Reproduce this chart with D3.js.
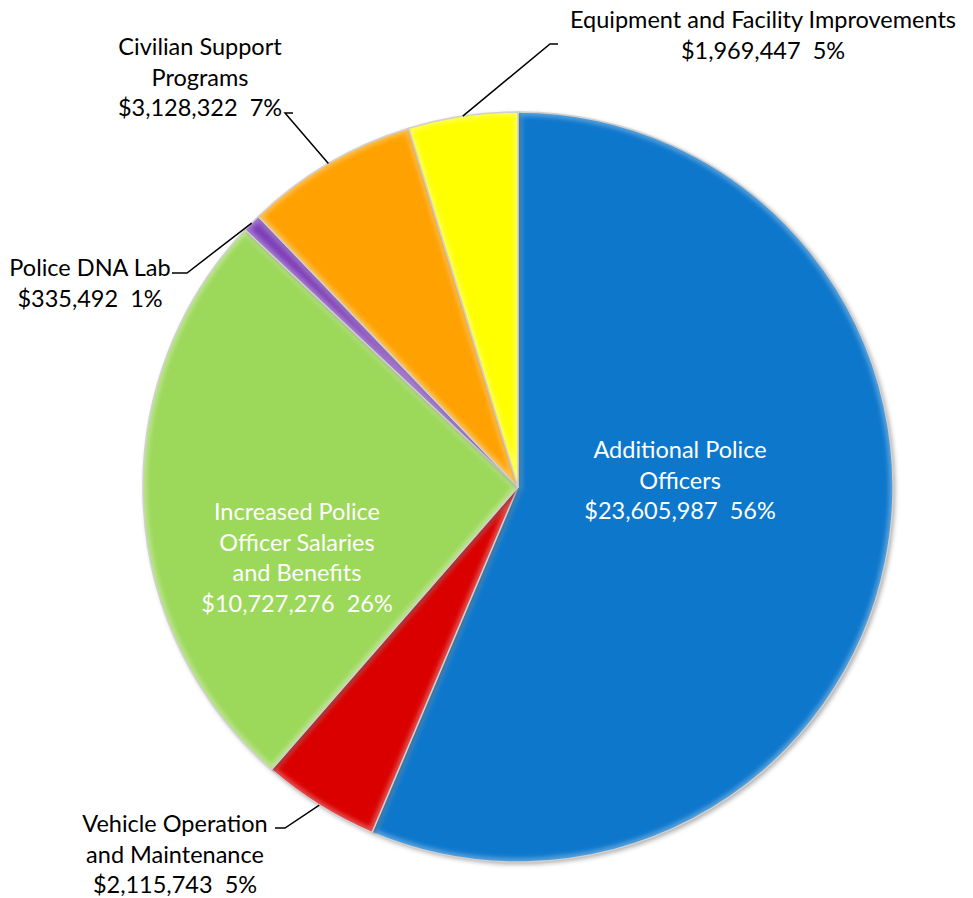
<!DOCTYPE html>
<html>
<head>
<meta charset="utf-8">
<script src="https://cdn.jsdelivr.net/npm/d3@7"></script>
<style>
  body { margin: 0; background: #fff; }
  text { font-family: Lato, "Open Sans", sans-serif; white-space: pre; }
</style>
</head>
<body>
<script>
// data
var categories = ["Additional Police Officers", "Vehicle Operation and Maintenance",
                  "Increased Police Officer Salaries and Benefits", "Police DNA Lab",
                  "Civilian Support Programs", "Equipment and Facility Improvements"];
var amounts = [23605987, 2115743, 10727276, 335492, 3128322, 1969447];
var labelLines = [["Additional Police", "Officers"],
                  ["Vehicle Operation", "and Maintenance"],
                  ["Increased Police", "Officer Salaries", "and Benefits"],
                  ["Police DNA Lab"],
                  ["Civilian Support", "Programs"],
                  ["Equipment and Facility Improvements"]];
var colors = ["#0877CC", "#DA0000", "#9CD85A", "#7E3FB8", "#FFA100", "#FFFF00"];

// label layout (x, first line centre y, leader tick)
var labelLayout = [
  { x: 680, y: 450, inside: true },
  { x: 175, y: 824, tick: [275, 285, 828] },
  { x: 297, y: 512, inside: true },
  { x: 90,  y: 268, tick: [172, 187, 273] },
  { x: 200, y: 47,  tick: [293, 285, 113] },
  { x: 763, y: 20,  tick: [558, 550, 44] }
];

var width = 973, height = 898,
    cx = 518, cy = 487,
    radius = 375,
    lineH = 30.5;

var total = d3.sum(amounts);
var fmtMoney = d3.format("$,"), fmtPct = d3.format(".0%");

var svg = d3.select("body").append("svg")
    .attr("width", width)
    .attr("height", height);

var defs = svg.append("defs");
var shadow = defs.append("filter").attr("id", "shadow")
    .attr("x", "-10%").attr("y", "-10%").attr("width", "120%").attr("height", "120%");
shadow.append("feDropShadow")
    .attr("dx", 2).attr("dy", 2).attr("stdDeviation", 2.5)
    .attr("flood-color", "#000").attr("flood-opacity", 0.35);
var soft = defs.append("filter").attr("id", "soft");
soft.append("feGaussianBlur").attr("stdDeviation", 2);

var pie = d3.pie().sort(null).value(function(d) { return d; });
var arc = d3.arc().innerRadius(0).outerRadius(radius);
var outerArc = d3.arc().innerRadius(radius).outerRadius(radius);

var arcs = pie(amounts);

var g = svg.append("g")
    .attr("transform", "translate(" + cx + "," + cy + ")");

arcs.forEach(function(d, i) {
  defs.append("clipPath").attr("id", "clip" + i)
    .append("path").attr("d", arc(d));
});

var slices = g.selectAll(".slice")
    .data(arcs)
  .enter().append("g")
    .attr("class", "slice");

slices.append("path")
    .attr("d", arc)
    .style("fill", function(d, i) { return colors[i]; })
    .attr("filter", "url(#shadow)");

// bevel-ish inner edge highlight
slices.append("g")
    .attr("clip-path", function(d, i) { return "url(#clip" + i + ")"; })
  .append("path")
    .attr("d", arc)
    .style("fill", "none")
    .style("stroke", "#fff")
    .style("stroke-opacity", 0.3)
    .style("stroke-width", 8)
    .attr("filter", "url(#soft)");

slices.append("path")
    .attr("d", arc)
    .style("fill", "none")
    .style("stroke", "#d0d0d0")
    .style("stroke-width", 1.5)
    .style("stroke-linejoin", "round");

// leader lines
arcs.forEach(function(d, i) {
  var L = labelLayout[i];
  if (L.inside) return;
  var p = outerArc.centroid(d);
  svg.append("polyline")
    .attr("points", [[L.tick[0], L.tick[2]], [L.tick[1], L.tick[2]], [cx + p[0], cy + p[1]]].join(" "))
    .style("fill", "none")
    .style("stroke", "#000")
    .style("stroke-width", 1.5);
});

// labels
arcs.forEach(function(d, i) {
  var L = labelLayout[i];
  var lines = labelLines[i].concat([fmtMoney(amounts[i]) + "  " + fmtPct(amounts[i] / total)]);
  var t = svg.append("text")
    .attr("text-anchor", "middle")
    .style("font-size", "23.5px")
    .style("fill", L.inside ? "#fff" : "#000");
  lines.forEach(function(s, k) {
    t.append("tspan")
      .attr("x", L.x)
      .attr("y", L.y + k * lineH + 8)
      .text(s);
  });
});
</script>
</body>
</html>
